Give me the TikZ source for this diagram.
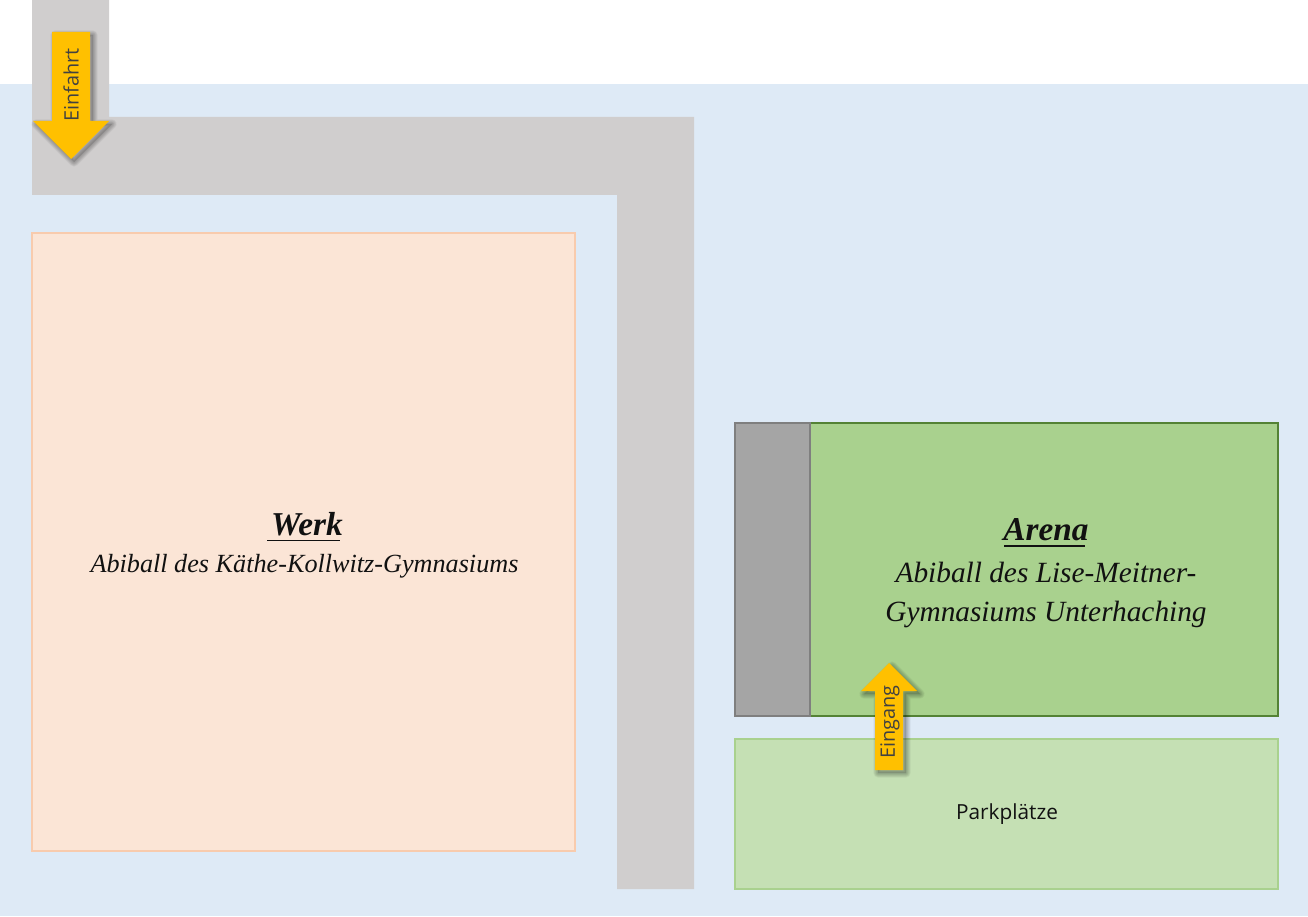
\documentclass[tikz,border=0pt]{standalone}
\usepackage{fontspec}
\setmainfont{Open Sans}
\newfontfamily\scriptface{Liberation Serif}
\definecolor{bgblue}{HTML}{DEEAF6}
\definecolor{road}{HTML}{D0CECE}
\definecolor{werkfill}{HTML}{FBE5D6}
\definecolor{werkline}{HTML}{F8CBAD}
\definecolor{arenafill}{HTML}{A9D18E}
\definecolor{arenaline}{HTML}{548235}
\definecolor{stagefill}{HTML}{A5A5A5}
\definecolor{stageline}{HTML}{7F7F7F}
\definecolor{parkfill}{HTML}{C5E0B4}
\definecolor{arrowfill}{HTML}{FFC000}
\definecolor{inktext}{HTML}{111111}
\tikzset{
  x=0.75pt,y=-0.75pt,
  flat/.style={line width=1.5pt,line join=miter},
  shadowlayer/.style={fill=none,draw=black,draw opacity=.04,line join=round},
  shadowcore/.style={fill=black,draw=none,fill opacity=.12},
  arrowbody/.style={fill=arrowfill,draw=none},
  bigtitle/.style={font=\scriptface\itshape\bfseries\fontsize{25}{30}\selectfont,text=inktext,inner sep=0pt,anchor=base},
  subwerk/.style={font=\scriptface\itshape\fontsize{19.65}{30}\selectfont,text=inktext,inner sep=0pt,anchor=base},
  subarena/.style={font=\scriptface\itshape\fontsize{22}{30}\selectfont,text=inktext,inner sep=0pt,anchor=base},
  arrowlabel/.style={font=\fontsize{14.9}{18}\selectfont,text=inktext!80,inner sep=0pt,rotate=90},
  underrule/.style={line width=1.4pt,draw=inktext}
}
\newcommand{\arrowshadow}[1]{%
  \path[shadowcore,shift={(3,3)}] #1;
  \foreach \w in {7,6,5,4,3,2,1}{
    \path[shadowlayer,line width=\w pt,shift={(3,3)}] #1;
  }%
}
\begin{document}
\begin{tikzpicture}
\useasboundingbox (0,0) rectangle (1308,916);
% ground
\fill[white] (0,0) rectangle (1308,916);
\fill[bgblue] (0,84) rectangle (1308,916);
% road
\fill[road] (32,0) -- (109,0) -- (109,117) -- (694,117) -- (694,889) -- (617,889) -- (617,195) -- (32,195) -- cycle;
% buildings
\draw[flat,fill=werkfill,draw=werkline] (32,233) rectangle (575,851);
\draw[flat,fill=arenafill,draw=arenaline] (735,423) rectangle (1278,716);
\draw[flat,fill=stagefill,draw=stageline] (735,423) rectangle (810,716);
\draw[flat,fill=parkfill,draw=arenafill] (735,739) rectangle (1278,889);
% arrows
\arrowshadow{(52,32) -- (90,32) -- (90,121) -- (109,121) -- (71,159) -- (33,121) -- (52,121) -- cycle}
\fill[arrowbody] (52,32) -- (90,32) -- (90,121) -- (109,121) -- (71,159) -- (33,121) -- (52,121) -- cycle;
\arrowshadow{(875,770) -- (903,770) -- (903,691) -- (917,691) -- (889,663) -- (861,691) -- (875,691) -- cycle}
\fill[arrowbody] (875,770) -- (903,770) -- (903,691) -- (917,691) -- (889,663) -- (861,691) -- (875,691) -- cycle;
% labels
\node[arrowlabel] (einfahrt) at (71,85) {Einfahrt};
\node[arrowlabel] (eingang) at (890,722) {Eingang};
\node[font=\fontsize{15.6}{18}\selectfont,text=inktext,inner sep=0pt] (park) at (1007,814.5) {Parkplätze};
\node[bigtitle] (werk) at (307,535) {Werk};
\node[subwerk] (werksub) at (304.5,572) {Abiball des Käthe-Kollwitz-Gymnasiums};
\node[bigtitle] (arena) at (1046,540) {Arena};
\node[subarena] (arenasub1) at (1046,582) {Abiball des Lise-Meitner-};
\node[subarena] (arenasub2) at (1046,621) {Gymnasiums Unterhaching};
\draw[underrule] (267,540.5) -- (340,540.5);
\draw[underrule] (1004,546) -- (1085,546);
\end{tikzpicture}
\end{document}
